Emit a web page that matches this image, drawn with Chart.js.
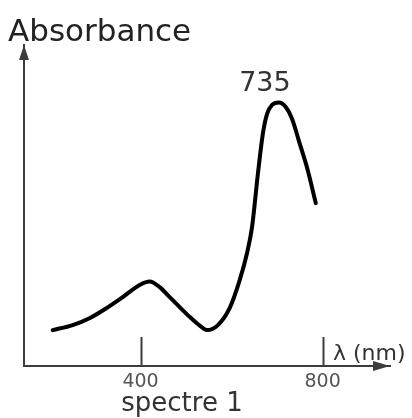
<!DOCTYPE html>
<html>
<head>
<meta charset="utf-8">
<script src="https://cdn.jsdelivr.net/npm/chart.js@4"></script>
<style>
  html, body { margin: 0; padding: 0; background: #fff; }
  #wrap { width: 412px; height: 418px; }
</style>
</head>
<body>
<div id="wrap"><canvas id="spectre"></canvas></div>
<script>
// wavelength (nm) and absorbance
const wavelengths = [207, 251, 289, 326, 361, 398, 420, 442, 464, 486, 508, 530, 546, 570, 596, 618, 634, 645, 658, 669, 678, 689, 704, 719, 733, 748, 766, 785];
const absorbance = [0.136, 0.155, 0.182, 0.220, 0.261, 0.307, 0.320, 0.299, 0.261, 0.223, 0.186, 0.153, 0.136, 0.155, 0.220, 0.326, 0.428, 0.527, 0.731, 0.883, 0.955, 0.989, 0.998, 0.981, 0.936, 0.852, 0.750, 0.617];
const tickValues = [400, 800];
const peakLabel = "735";
const yTitle = "Absorbance";
const xTitle = "λ (nm)";
const caption = "spectre 1";

const axisColor = "#3c3c3c";
const font = "'DejaVu Sans', sans-serif";

const points = wavelengths.map((w, i) => ({ x: w, y: absorbance[i] }));

// arrows, upward ticks and the free-standing labels
const decorations = {
  id: "decorations",
  afterDraw(chart) {
    const ctx = chart.ctx;
    const area = chart.chartArea;
    const xs = chart.scales.x;
    ctx.save();
    ctx.fillStyle = axisColor;
    ctx.strokeStyle = axisColor;

    // y arrow
    ctx.beginPath();
    ctx.moveTo(area.left, area.top);
    ctx.lineTo(area.left - 5, area.top + 15);
    ctx.lineTo(area.left + 5, area.top + 15);
    ctx.closePath();
    ctx.fill();

    // x arrow
    ctx.beginPath();
    ctx.moveTo(area.right, area.bottom);
    ctx.lineTo(area.right - 17, area.bottom - 5);
    ctx.lineTo(area.right - 17, area.bottom + 5);
    ctx.closePath();
    ctx.fill();

    // ticks pointing up
    ctx.lineWidth = 2;
    tickValues.forEach((v) => {
      const px = Math.round(xs.getPixelForValue(v)) + 0.5;
      ctx.beginPath();
      ctx.moveTo(px, area.bottom);
      ctx.lineTo(px, area.bottom - 29);
      ctx.stroke();
    });

    ctx.fillStyle = "#222";
    ctx.textBaseline = "alphabetic";
    ctx.textAlign = "left";
    ctx.font = "31px " + font;
    ctx.fillText(yTitle, 8, 41);

    ctx.fillStyle = "#333";
    ctx.font = "22px " + font;
    ctx.fillText(xTitle, 333, 360);

    ctx.textAlign = "center";
    ctx.font = "26px " + font;
    ctx.fillText(caption, 182, 411);

    // peak label above the highest point
    const meta = chart.getDatasetMeta(0);
    let top = meta.data[0];
    meta.data.forEach((p) => { if (p.y < top.y) top = p; });
    ctx.font = "27px " + font;
    ctx.fillText(peakLabel, top.x - 14, top.y - 12);
    ctx.restore();
  }
};

new Chart(document.getElementById("spectre"), {
  type: "line",
  data: {
    datasets: [{
      data: points,
      borderColor: "#000",
      borderWidth: 4,
      borderCapStyle: "round",
      pointRadius: 0,
      fill: false,
      cubicInterpolationMode: "monotone"
    }]
  },
  options: {
    responsive: true,
    maintainAspectRatio: false,
    animation: false,
    events: [],
    layout: { padding: { left: 24, right: 22, top: 45, bottom: 0 } },
    plugins: { legend: { display: false }, tooltip: { enabled: false } },
    scales: {
      x: {
        type: "linear",
        min: 144,
        max: 948,
        afterBuildTicks: (scale) => { scale.ticks = tickValues.map((v) => ({ value: v })); },
        afterFit: (scale) => { scale.height = 52; },
        grid: { display: false, drawTicks: false },
        border: { display: true, color: axisColor, width: 2 },
        ticks: { color: "#555", font: { family: font, size: 19 }, padding: 5, maxRotation: 0 }
      },
      y: {
        min: 0,
        max: 1.216,
        afterFit: (scale) => { scale.width = 0; },
        grid: { display: false, drawTicks: false },
        border: { display: true, color: axisColor, width: 2 },
        ticks: { display: false }
      }
    }
  },
  plugins: [decorations]
});
</script>
</body>
</html>
